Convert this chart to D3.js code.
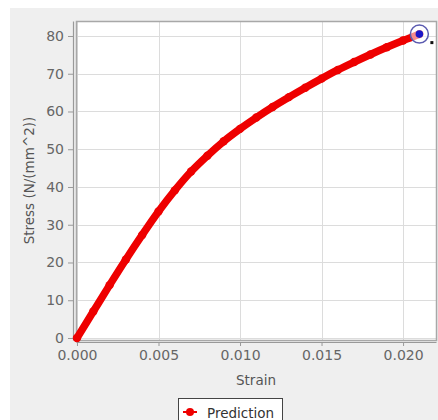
<!DOCTYPE html>
<html>
<head>
<meta charset="utf-8">
<script src="https://cdn.jsdelivr.net/npm/d3@7"></script>
<style>
  html, body { margin: 0; padding: 0; background: #fff; }
  svg { display: block; }
  .tick text { font-family: "DejaVu Sans", sans-serif; }
</style>
</head>
<body>
<div id="chart"></div>
<script>
// ── Data ─────────────────────────────────────────────────────────────────────
var strain = [0, 0.001, 0.002, 0.003, 0.004, 0.005, 0.006, 0.007, 0.008, 0.009, 0.010,
              0.011, 0.012, 0.013, 0.014, 0.015, 0.016, 0.017, 0.018, 0.019, 0.020, 0.021];
var stress = [0, 7, 14, 20.8, 27.3, 33.5, 39.1, 44.1, 48.3, 52.1, 55.4,
              58.4, 61.2, 63.8, 66.3, 68.7, 71, 73.1, 75.1, 77, 78.8, 80.5];
var xTicks = [0, 0.005, 0.010, 0.015, 0.020];
var yTicks = [0, 10, 20, 30, 40, 50, 60, 70, 80];
var seriesName = "Prediction";
var xLabel = "Strain";
var yLabel = "Stress (N/(mm^2))";

(function () {
  var W = 438, H = 420;
  var plot = { left: 76, right: 436, top: 21, bottom: 340 };
  var RED = "#ee0000";

  var svg = d3.select("#chart").append("svg")
    .attr("width", W).attr("height", H);

  // panel background
  svg.append("rect").attr("x", 10).attr("y", 8)
    .attr("width", W - 10).attr("height", H - 8).attr("fill", "#efefef");

  var x = d3.scaleLinear().domain([-0.00006, 0.02202]).range([plot.left, plot.right]);
  var y = d3.scaleLinear().domain([-0.53, 83.97]).range([plot.bottom, plot.top]);

  // plot area
  svg.append("rect")
    .attr("x", plot.left).attr("y", plot.top)
    .attr("width", plot.right - plot.left).attr("height", plot.bottom - plot.top)
    .attr("fill", "#fff");

  // gridlines
  var grid = svg.append("g").attr("stroke", "#dcdcdc").attr("stroke-width", 1);
  grid.selectAll("line.v").data(xTicks).join("line")
    .attr("x1", function (d) { return Math.round(x(d)) + 0.5; })
    .attr("x2", function (d) { return Math.round(x(d)) + 0.5; })
    .attr("y1", plot.top).attr("y2", plot.bottom);
  grid.selectAll("line.h").data(yTicks).join("line")
    .attr("y1", function (d) { return Math.round(y(d)) + 0.5; })
    .attr("y2", function (d) { return Math.round(y(d)) + 0.5; })
    .attr("x1", plot.left).attr("x2", plot.right);

  // plot outline
  svg.append("rect")
    .attr("x", plot.left + 0.5).attr("y", plot.top + 0.5)
    .attr("width", plot.right - plot.left).attr("height", plot.bottom - plot.top)
    .attr("fill", "none").attr("stroke", "#a8a8a8").attr("stroke-width", 1.5);

  // axes (offset a few px from the plot)
  var xAxis = svg.append("g")
    .attr("transform", "translate(0," + (plot.bottom + 2) + ")")
    .call(d3.axisBottom(x).tickValues(xTicks).tickFormat(d3.format(".3f"))
      .tickSize(4).tickSizeOuter(0).tickPadding(4));
  var yAxis = svg.append("g")
    .attr("transform", "translate(" + (plot.left - 3) + ",0)")
    .call(d3.axisLeft(y).tickValues(yTicks).tickFormat(d3.format("d"))
      .tickSize(5).tickSizeOuter(0).tickPadding(4));

  [xAxis, yAxis].forEach(function (a) {
    a.select(".domain").attr("stroke", "#999").attr("stroke-width", 1.2);
    a.selectAll(".tick line").attr("stroke", "#999");
    a.selectAll(".tick text").attr("fill", "#666").attr("font-size", 14);
  });

  // axis titles
  svg.append("text")
    .attr("x", (plot.left + plot.right) / 2).attr("y", 385)
    .attr("text-anchor", "middle")
    .attr("font-family", "DejaVu Sans, sans-serif").attr("font-size", 13.5)
    .attr("fill", "#555").text(xLabel);
  svg.append("text")
    .attr("transform", "translate(34," + ((plot.top + plot.bottom) / 2) + ") rotate(-90)")
    .attr("text-anchor", "middle")
    .attr("font-family", "DejaVu Sans, sans-serif").attr("font-size", 13.5)
    .attr("fill", "#555").text(yLabel);

  // series
  var pts = strain.map(function (s, i) { return [s, stress[i]]; });
  var line = d3.line()
    .x(function (d) { return x(d[0]); })
    .y(function (d) { return y(d[1]); })
    .curve(d3.curveMonotoneX);

  svg.append("path").datum(pts)
    .attr("d", line).attr("fill", "none")
    .attr("stroke", RED).attr("stroke-width", 7.5)
    .attr("stroke-linecap", "round").attr("stroke-linejoin", "round");
  svg.append("g").selectAll("circle").data(pts).join("circle")
    .attr("cx", function (d) { return x(d[0]); })
    .attr("cy", function (d) { return y(d[1]); })
    .attr("r", 4.2).attr("fill", RED);

  // highlighted last point
  var last = pts[pts.length - 1];
  var hx = x(last[0]), hy = y(last[1]);
  svg.append("circle").attr("cx", hx).attr("cy", hy).attr("r", 9)
    .attr("fill", "rgba(255,255,255,0.55)").attr("stroke", "#5b5bb0").attr("stroke-width", 1.5);
  svg.append("circle").attr("cx", hx).attr("cy", hy).attr("r", 3.8).attr("fill", "#1c16c8");
  svg.append("rect").attr("x", hx + 11).attr("y", hy + 7).attr("width", 3).attr("height", 3)
    .attr("fill", "#111");

  // legend
  var lg = svg.append("g").attr("transform", "translate(178,398)");
  lg.append("rect").attr("x", 0.5).attr("y", 0.5).attr("width", 104).attr("height", 24)
    .attr("fill", "#fff").attr("stroke", "#444").attr("stroke-width", 1);
  lg.append("line").attr("x1", 5).attr("x2", 19).attr("y1", 14).attr("y2", 14)
    .attr("stroke", RED).attr("stroke-width", 2);
  lg.append("circle").attr("cx", 12).attr("cy", 14).attr("r", 4).attr("fill", RED);
  lg.append("text").attr("x", 29).attr("y", 20)
    .attr("font-family", "DejaVu Sans, sans-serif").attr("font-size", 13.5)
    .attr("fill", "#333").text(seriesName);
})();
</script>
</body>
</html>
